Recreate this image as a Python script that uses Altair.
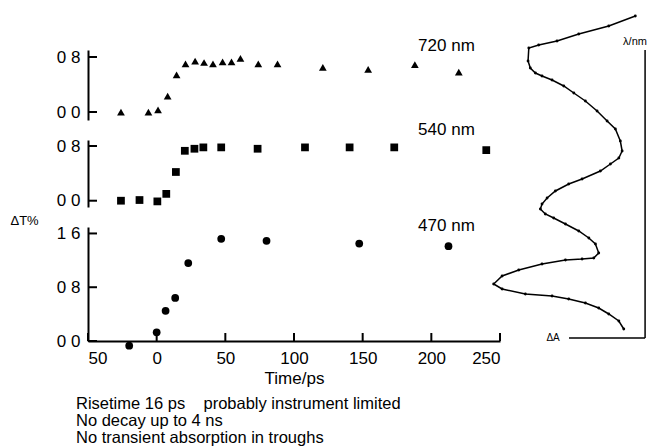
import altair as alt
import pandas as pd

FONT = "Liberation Sans"

# ---- kinetic traces (time in ps, dT %) ----
t720 = [-26, -6, 1, 8, 14.5, 21, 28, 34.5, 41, 48, 54.5, 61, 74, 88, 121, 154, 188, 220]
v720 = [0.0, 0.0, 0.03, 0.23, 0.54, 0.70, 0.74, 0.72, 0.70, 0.73, 0.73, 0.78, 0.70, 0.70, 0.65, 0.62, 0.69, 0.58]

t540 = [-26, -12.5, 0.5, 7, 14, 20.5, 27.5, 34, 47, 73.5, 108, 140.5, 173, 240]
v540 = [0.0, 0.01, -0.01, 0.10, 0.42, 0.73, 0.76, 0.78, 0.78, 0.76, 0.78, 0.78, 0.78, 0.74]

t470 = [-20, 0, 6.5, 13.5, 23, 47, 80, 147.5, 212.5]
v470 = [-0.07, 0.13, 0.45, 0.64, 1.16, 1.52, 1.49, 1.45, 1.41]

x_ticks = [-50, 0, 50, 100, 150, 200, 250]
y_ticks_small = [0.0, 0.8]
y_ticks_big = [0.0, 0.8, 1.6]

# trace labels (placed in each panel's own data units)
label_t = 211
label_v = {"720 nm": 0.967, "540 nm": 1.034, "470 nm": 1.711}

# ---- spectrum inset (relative dA vs wavelength) ----
spec_lam = [722, 712, 704, 697, 693, 690, 677, 670, 665, 662, 658, 652, 645, 637, 627, 617,
            609, 597, 587, 580, 574, 567, 559, 554, 547, 540, 534, 529, 524, 520, 514, 507,
            500, 494, 485, 480, 479, 478, 474, 468, 462, 454, 449, 444, 442, 439, 435, 430,
            424, 417, 409]
spec_dA = [0.065, 0.242, 0.442, 0.587, 0.709, 0.775, 0.780, 0.765, 0.731, 0.687, 0.620, 0.542,
           0.475, 0.398, 0.320, 0.253, 0.198, 0.165, 0.153, 0.175, 0.231, 0.298, 0.420, 0.509,
           0.598, 0.653, 0.687, 0.698, 0.665, 0.609, 0.531, 0.442, 0.375, 0.331, 0.309, 0.342,
           0.420, 0.531, 0.687, 0.842, 0.953, 1.009, 0.953, 0.798, 0.620, 0.509, 0.398, 0.309,
           0.242, 0.175, 0.142]
spec_axis_lam = [400, 688]     # extent of the inset's wavelength axis
spec_axis_dA = [0, 0.507]      # extent of the inset's dA axis
spec_lam_label = [696]
spec_lam_label_dA = [0.067]
spec_dA_label = [0.613]

notes = ["Risetime 16 ps\u00a0\u00a0\u00a0\u00a0probably instrument limited",
         "No decay up to 4 ns",
         "No transient absorption in troughs"]

PW = 412
FS = 17


def panel(t, v, shape, label, ydomain, yticks, height, bottom=False):
    df = pd.DataFrame({"t": t, "v": v})
    if bottom:
        xaxis = alt.Axis(values=x_ticks, ticks=False, grid=False, labelPadding=9,
                         labelExpr="'' + abs(datum.value)", labelFontSize=FS, labelFont=FONT,
                         labelColor="black", domainColor="black", domainWidth=2,
                         title="Time/ps", titleFont=FONT, titleFontSize=FS,
                         titleFontWeight="normal", titleColor="black", titlePadding=4)
    else:
        xaxis = None
    yaxis_kw = dict(values=yticks, ticks=False, grid=False, labelPadding=8,
                    labelExpr="replace(format(datum.value, '.1f'), '.', ' ')",
                    labelFontSize=FS, labelFont=FONT, labelColor="black",
                    domainColor="black", domainWidth=2)
    if bottom:
        yaxis = alt.Axis(title="ΔT%", titleAngle=0, titleAlign="left", titleBaseline="middle",
                         titleX=-78, titleY=-7, titleFont=FONT, titleFontSize=13,
                         titleFontWeight="normal", titleColor="black", **yaxis_kw)
    else:
        yaxis = alt.Axis(title=None, **yaxis_kw)
    xenc = alt.X("t:Q", scale=alt.Scale(domain=[-50, 250], nice=False, zero=False), axis=xaxis)
    yenc = alt.Y("v:Q", scale=alt.Scale(domain=ydomain, nice=False, zero=False), axis=yaxis)

    pts = alt.Chart(df).mark_point(shape=shape, filled=True, size=60, color="black",
                                   opacity=1).encode(x=xenc, y=yenc)
    ytk = alt.Chart(pd.DataFrame({"v": yticks})).mark_rule(color="black", strokeWidth=2).encode(
        y=yenc, x=alt.value(0), x2=alt.value(9))
    lab = alt.Chart(pd.DataFrame({"t": [label_t], "v": [label_v[label]], "s": [label]})).mark_text(
        font=FONT, fontSize=FS, color="black", align="center", baseline="middle").encode(
        x=xenc, y=yenc, text="s:N")
    layers = [pts, ytk, lab]
    if bottom:
        xtk = alt.Chart(pd.DataFrame({"t": x_ticks})).mark_rule(color="black", strokeWidth=2).encode(
            x=xenc, y=alt.value(height), y2=alt.value(height - 8))
        layers.append(xtk)
    return alt.layer(*layers)


# ---- inset spectrum, drawn with its own scales on top of the upper panel ----
spec_df = pd.DataFrame({"i": list(range(len(spec_lam))), "lam": spec_lam, "dA": spec_dA})
sx = alt.Scale(domain=[0.967, 3.713], reverse=True, nice=False, zero=False)
sy = alt.Scale(domain=[618, 688], nice=False, zero=False)
line = alt.Chart(spec_df).mark_line(color="black", strokeWidth=1.5).encode(
    x=alt.X("dA:Q", scale=sx, axis=None), y=alt.Y("lam:Q", scale=sy, axis=None), order="i:Q")
dots = alt.Chart(spec_df).mark_circle(color="black", size=8, opacity=1).encode(
    x=alt.X("dA:Q", scale=sx, axis=None), y=alt.Y("lam:Q", scale=sy, axis=None))
vax = alt.Chart(pd.DataFrame({"dA": [spec_axis_dA[0]], "lo": [spec_axis_lam[0]],
                              "hi": [spec_axis_lam[1]]})).mark_rule(
    color="black", strokeWidth=1.5).encode(
    x=alt.X("dA:Q", scale=sx, axis=None), y=alt.Y("lo:Q", scale=sy, axis=None), y2="hi:Q")
hax = alt.Chart(pd.DataFrame({"a": [spec_axis_dA[0]], "b": [spec_axis_dA[1]],
                              "lam": [spec_axis_lam[0]]})).mark_rule(
    color="black", strokeWidth=1.5).encode(
    x=alt.X("a:Q", scale=sx, axis=None), x2="b:Q", y=alt.Y("lam:Q", scale=sy, axis=None))
lam_txt = alt.Chart(pd.DataFrame({"dA": spec_lam_label_dA, "lam": spec_lam_label,
                                  "s": ["λ/nm"]})).mark_text(
    font=FONT, fontSize=11, color="black", align="center", baseline="middle").encode(
    x=alt.X("dA:Q", scale=sx, axis=None), y=alt.Y("lam:Q", scale=sy, axis=None), text="s:N")
dA_txt = alt.Chart(pd.DataFrame({"dA": spec_dA_label, "lam": [spec_axis_lam[0]],
                                 "s": ["ΔA"]})).mark_text(
    font=FONT, fontSize=10, color="black", align="center", baseline="middle").encode(
    x=alt.X("dA:Q", scale=sx, axis=None), y=alt.Y("lam:Q", scale=sy, axis=None), text="s:N")
spec = alt.layer(line, dots, vax, hax, lam_txt, dA_txt)

p1 = alt.layer(
    panel(t720, v720, "triangle-up", "720 nm", [-0.116, 0.902], y_ticks_small, 70),
    spec,
).resolve_scale(x="independent", y="independent").properties(width=PW, height=70)
p2 = panel(t540, v540, "square", "540 nm", [-0.092, 0.888], y_ticks_small, 67).properties(
    width=PW, height=67)
p3 = panel(t470, v470, "circle", "470 nm", [0.0, 1.696], y_ticks_big, 114,
           bottom=True).properties(width=PW, height=114)

chart = alt.vconcat(p1, p2, p3, spacing=20, bounds="flush").properties(
    title=alt.TitleParams(notes, orient="bottom", anchor="start", dx=66, offset=10, font=FONT,
                          fontSize=16.5, fontWeight="normal", color="black", lineHeight=17),
    padding={"left": 2, "top": 5, "right": 0, "bottom": 0},
).configure(background="white", view=alt.ViewConfig(stroke=None))

chart.save("out.html", embed_options={"renderer": "svg", "actions": False})
